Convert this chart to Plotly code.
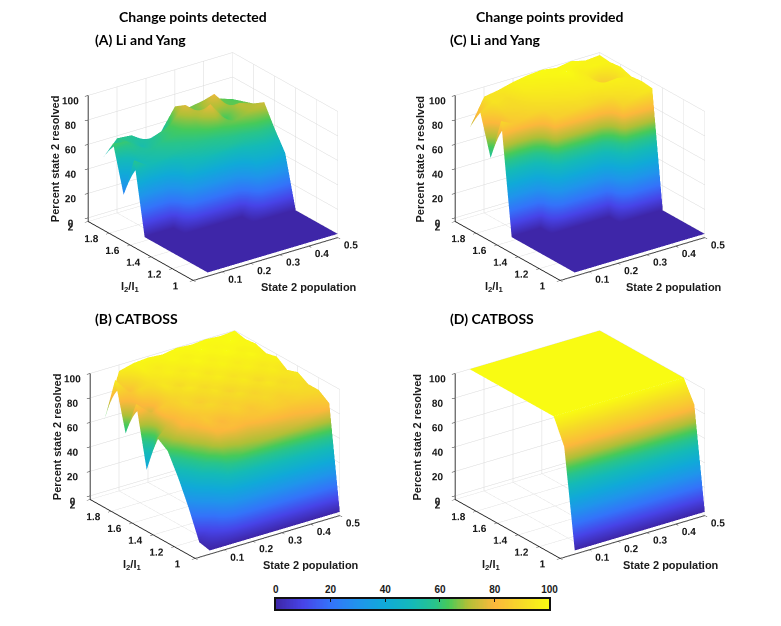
import plotly.graph_objects as go
import numpy as np

# ---------------- data ----------------
state2_pop = [0.05, 0.10, 0.15, 0.20, 0.25, 0.30, 0.35, 0.40, 0.45, 0.50]
intensity_ratio = [1.0, 1.1, 1.2, 1.3, 1.4, 1.5, 1.6, 1.7, 1.8, 1.9, 2.0]

# (A) Li and Yang, change points detected  (rows = intensity_ratio, cols = state2_pop)
z_li_detected = [
    [0, 0, 0, 0, 0, 0, 0, 0, 0, 0],
    [0, 0, 0, 0, 0, 0, 0, 0, 0, 0],
    [0, 0, 0, 0, 0, 0, 0, 0, 0, 0],
    [0, 0, 0, 0, 0, 0, 0, 0, 0, 0],
    [0, 0, 0, 0, 0, 0, 0, 0, 0, 0],
    [0, 0, 0, 0, 0, 0, 0, 40, 44, 42],
    [0, 0, 0, 45, 50, 52, 55, 55, 58, 57],
    [58, 50, 52, 55, 58, 60, 62, 66, 70, 74],
    [25, 52, 56, 60, 62, 66, 78, 62, 72, 68],
    [62, 60, 52, 58, 64, 76, 66, 78, 64, 65],
    [45, 58, 57, 49, 52, 70, 66, 68, 66, 62],
]

# (C) Li and Yang, change points provided
z_li_provided = [
    [0, 0, 0, 0, 0, 0, 0, 0, 0, 0],
    [0, 0, 0, 0, 0, 0, 0, 0, 0, 0],
    [0, 0, 0, 0, 0, 0, 0, 0, 0, 0],
    [0, 0, 0, 0, 0, 0, 0, 0, 0, 0],
    [0, 0, 0, 0, 0, 0, 0, 0, 0, 0],
    [0, 0, 0, 0, 0, 0, 0, 88, 92, 95],
    [0, 0, 0, 86, 88, 90, 89, 92, 94, 96],
    [90, 84, 88, 90, 92, 94, 95, 96, 97, 95],
    [55, 88, 90, 93, 95, 96, 97, 95, 78, 98],
    [88, 93, 91, 96, 97, 98, 100, 96, 98, 97],
    [70, 92, 94, 97, 99, 100, 98, 100, 97, 98],
]

# (B) CATBOSS, change points detected
z_cat_detected = [
    [0, 0, 0, 0, 0, 0, 0, 0, 0, 0],
    [2, 20, 55, 65, 68, 70, 72, 75, 78, 84],
    [25, 55, 78, 82, 80, 84, 86, 85, 88, 90],
    [45, 70, 85, 80, 88, 84, 90, 88, 92, 90],
    [62, 80, 84, 90, 86, 92, 88, 94, 90, 95],
    [68, 78, 90, 86, 93, 88, 95, 90, 96, 92],
    [37, 85, 88, 94, 90, 96, 92, 97, 94, 98],
    [86, 75, 94, 90, 97, 93, 98, 95, 99, 96],
    [57, 90, 92, 97, 94, 99, 96, 100, 97, 99],
    [96, 82, 97, 95, 99, 97, 100, 98, 100, 98],
    [59, 95, 98, 99, 98, 100, 99, 100, 99, 100],
]

# (D) CATBOSS, change points provided
z_cat_provided = [
    [0, 0, 0, 0, 0, 0, 0, 0, 0, 0],
    [80, 82, 81, 83, 82, 84, 83, 82, 84, 83],
    [100, 100, 100, 100, 100, 100, 100, 100, 100, 100],
    [100, 100, 100, 100, 100, 100, 100, 100, 100, 100],
    [100, 100, 100, 100, 100, 100, 100, 100, 100, 100],
    [100, 100, 100, 100, 100, 100, 100, 100, 100, 100],
    [100, 100, 100, 100, 100, 100, 100, 100, 100, 100],
    [100, 100, 100, 100, 100, 100, 100, 100, 100, 100],
    [100, 100, 100, 100, 100, 100, 100, 100, 100, 100],
    [100, 100, 100, 100, 100, 100, 100, 100, 100, 100],
    [100, 100, 100, 100, 100, 100, 100, 100, 100, 100],
]

x_ticks = [0.1, 0.2, 0.3, 0.4, 0.5]
y_ticks = [1, 1.2, 1.4, 1.6, 1.8, 2]
z_ticks = [0, 20, 40, 60, 80, 100]
cbar_ticks = [0, 20, 40, 60, 80, 100]

# ---------------- styling ----------------
parula = [
    [0.00, "rgb(62,38,168)"],
    [0.10, "rgb(71,68,232)"],
    [0.20, "rgb(52,115,250)"],
    [0.30, "rgb(32,148,236)"],
    [0.40, "rgb(16,170,216)"],
    [0.50, "rgb(20,186,184)"],
    [0.58, "rgb(40,196,140)"],
    [0.63, "rgb(70,202,90)"],
    [0.70, "rgb(175,192,55)"],
    [0.80, "rgb(252,184,60)"],
    [0.90, "rgb(246,218,40)"],
    [1.00, "rgb(249,251,18)"],
]

tick_font = dict(family="Liberation Sans", size=11, color="#1a1a1a", weight="bold")
grid_c = "#d9d9d9"
z_lo = -3


def axis(rng, ticks, ticktext=None):
    return dict(
        range=rng, autorange=False, tickvals=ticks,
        ticktext=ticktext if ticktext else [("%g" % t) for t in ticks],
        title=dict(text=""), showgrid=True, gridcolor=grid_c, gridwidth=1,
        showbackground=False, zeroline=False, showline=True, linecolor="#222",
        linewidth=2, ticks="outside", tickcolor="#222", ticklen=4,
        tickfont=tick_font, tickangle=0, showspikes=False,
    )


eye_dir = np.array([-1.0, -1.375, 0.76])
eye = eye_dir / np.linalg.norm(eye_dir) * 2.0
box_scale = 1.3

fig = go.Figure()

dyo = 0.0064
panels = [
    (z_li_detected, "scene", [0.053, 0.493], [0.52 - dyo, 0.96 - dyo]),
    (z_li_provided, "scene2", [0.530, 0.970], [0.52 - dyo, 0.96 - dyo]),
    (z_cat_detected, "scene3", [0.056, 0.496], [0.076 - dyo, 0.516 - dyo]),
    (z_cat_provided, "scene4", [0.531, 0.971], [0.076 - dyo, 0.516 - dyo]),
]

for z, sc, dx, dy in panels:
    fig.add_trace(go.Surface(
        x=state2_pop, y=intensity_ratio, z=z, scene=sc,
        colorscale=parula, cmin=0, cmax=100, showscale=False,
        lighting=dict(ambient=1.0, diffuse=0.0, specular=0.0, roughness=1.0, fresnel=0.0),
        hoverinfo="skip",
    ))
    fig.layout[sc] = dict(
        domain=dict(x=dx, y=dy),
        xaxis=axis([0, 0.5], [0] + x_ticks, [""] + ["%g" % t for t in x_ticks]),
        yaxis=axis([1, 2], y_ticks),
        zaxis=axis([z_lo, 100], z_ticks),
        aspectmode="manual",
        aspectratio=dict(x=box_scale, y=box_scale,
                         z=0.75 * box_scale * (100 - z_lo) / 100),
        camera=dict(eye=dict(x=eye[0], y=eye[1], z=eye[2]),
                    up=dict(x=0, y=0, z=1), center=dict(x=0, y=0, z=0),
                    projection=dict(type="orthographic")),
        bgcolor="white",
    )

# colour bar as a heatmap on a 2D axis with labels on top
cb_vals = np.linspace(0, 100, 201)
fig.add_trace(go.Heatmap(
    x=cb_vals, y=[0], z=[cb_vals], colorscale=parula, zmin=0, zmax=100,
    showscale=False, hoverinfo="skip", xaxis="x", yaxis="y",
))
fig.update_layout(
    xaxis=dict(domain=[277 / 781, 555 / 781], range=[0, 100], side="top",
               tickvals=cbar_ticks, ticks="inside", ticklen=3, tickcolor="#111",
               showline=True, linecolor="#111", linewidth=1.5, mirror=True,
               showgrid=False, zeroline=False,
               tickfont=dict(family="Liberation Sans", size=10, color="#1a1a1a", weight="bold")),
    yaxis=dict(domain=[1 - 609 / 626, 1 - 599 / 626], range=[-0.5, 0.5],
               showticklabels=False, ticks="", showline=True, linecolor="#111",
               linewidth=1.5, mirror=True, showgrid=False, zeroline=False),
)

# text
ann = []
title_font = dict(family="Lato", size=14, color="black", weight="bold")
lab_font = dict(family="Liberation Sans", size=11, color="#1a1a1a", weight="bold")


def px(x, y):
    return x / 781, 1 - y / 626


def add(text, x, y, font, xanchor="center", textangle=0):
    xp, yp = px(x, y)
    ann.append(dict(text=text, x=xp, y=yp, xref="paper", yref="paper",
                    showarrow=False, font=font, xanchor=xanchor, yanchor="middle",
                    textangle=textangle))


add("Change points detected", 193, 16, title_font)
add("Change points provided", 556, 16, title_font)
add("(A) Li and Yang", 91, 40, title_font, "left")
add("(C) Li and Yang", 452, 40, title_font, "left")
add("(B) CATBOSS", 91, 318, title_font, "left")
add("(D) CATBOSS", 452, 318, title_font, "left")

for dx, dy in [(0, 0), (370, 0), (2, 278), (367, 278)]:
    add("Percent state 2 resolved", 53 + dx, 159 + dy, lab_font, textangle=-90)
    add("I<sub>2</sub>/I<sub>1</sub>", 129 + dx, 287 + dy, lab_font)
    add("State 2 population", 311 + dx, 287 + dy, lab_font)

fig.update_layout(
    width=781, height=626, margin=dict(l=0, r=0, t=0, b=0),
    paper_bgcolor="white", plot_bgcolor="white", annotations=ann,
    showlegend=False,
)

fig.write_html("out.html", config=dict(displayModeBar=False),
               post_script="document.body.style.margin='0px';")
